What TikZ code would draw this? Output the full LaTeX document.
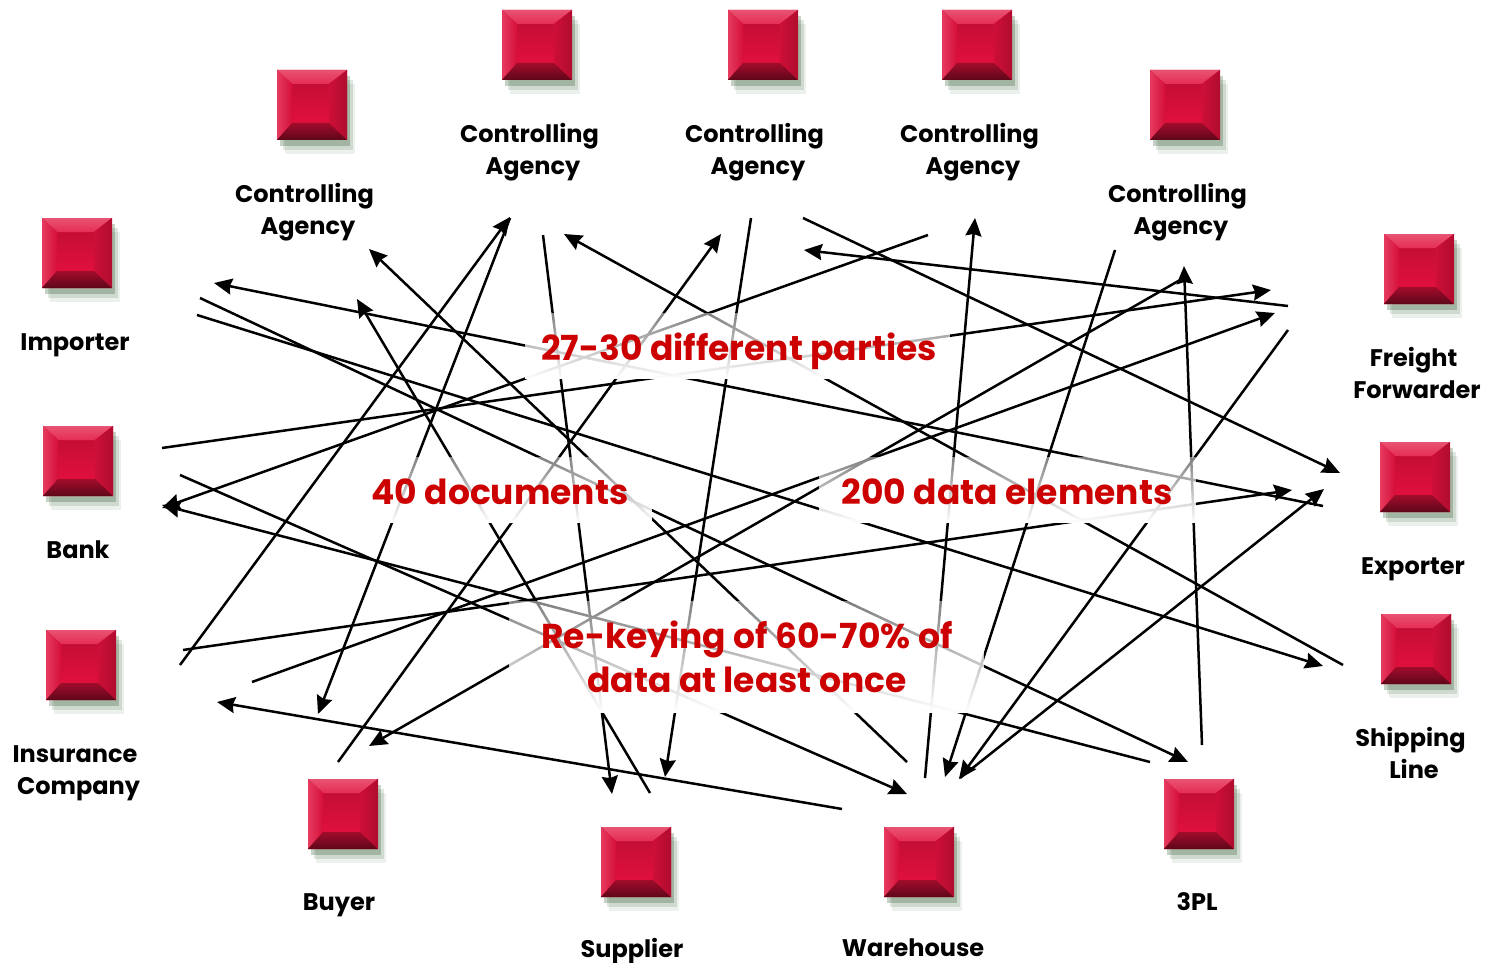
\documentclass[tikz,border=0pt]{standalone}
\usepackage{fontspec}
\setmainfont{Poppins}
\usetikzlibrary{arrows.meta, calc, fadings, shadows}

\definecolor{notered}{HTML}{CC0000}
\definecolor{tilered}{HTML}{E0103C}
\tikzfading[name=halo, top color=transparent!50, bottom color=transparent!0]
\newcommand{\trail}{\kern7pt}

\tikzset{
	tile/.style={minimum size=70pt, inner sep=0pt, fill=tilered,
		drop shadow={shadow xshift=8pt, shadow yshift=-14pt, opacity=.07, fill=black!80!green},
		drop shadow={shadow xshift=6pt, shadow yshift=-10pt, opacity=.12, fill=black!80!green},
		drop shadow={shadow xshift=3pt, shadow yshift=-6pt, opacity=.22, fill=black!80!green},
		path picture={
			\coordinate (pnw) at (path picture bounding box.north west);
			\coordinate (pne) at (path picture bounding box.north east);
			\coordinate (psw) at (path picture bounding box.south west);
			\coordinate (pse) at (path picture bounding box.south east);
			\coordinate (inw) at ([shift={(15pt,-14pt)}]pnw);
			\coordinate (ine) at ([shift={(-18pt,-14pt)}]pne);
			\coordinate (isw) at ([shift={(15pt,17pt)}]psw);
			\coordinate (ise) at ([shift={(-18pt,17pt)}]pse);
			\fill[top color=tilered!88!black, bottom color=tilered] (inw) rectangle (ise);
			\fill[top color=tilered!72!white, bottom color=tilered!88!white] (pnw) -- (pne) -- (ine) -- (inw) -- cycle;
			\fill[left color=tilered!82!white, right color=tilered!95!black] (pnw) -- (inw) -- (isw) -- (psw) -- cycle;
			\fill[left color=tilered!92!black, right color=tilered!78!black] (pne) -- (ine) -- (ise) -- (pse) -- cycle;
			\fill[top color=tilered!72!black, bottom color=tilered!42!black] (psw) -- (isw) -- (ise) -- (pse) -- cycle;
		}},
	lab/.style={font=\bfseries\fontsize{24}{32}\selectfont, align=center, inner sep=0pt},
	mask/.style={inner sep=0pt, fill=white, path fading=halo},
	note/.style={font=\bfseries\fontsize{34.5}{44}\selectfont, align=center, inner sep=0pt, text=notered},
	flow/.style={black, line width=2.5pt},
	tip/.style={-{Stealth[length=18pt, width=16pt, inset=2pt]}}
}

\begin{document}
\begin{tikzpicture}[x=1pt, y=-1pt]
	\useasboundingbox (0,0) rectangle (1485,963);
	
	% line ends
	\coordinate (f1) at (1288,306);		\coordinate (t1) at (804,250);
	\coordinate (f2) at (803,218);		\coordinate (t2) at (1340,473);
	\coordinate (f3) at (928,235);		\coordinate (t3) at (162,508);
	\coordinate (f4) at (543,235);		\coordinate (t4) at (612,794);
	\coordinate (f5) at (751,218);		\coordinate (t5) at (665,777);
	\coordinate (f6) at (1115,250);		\coordinate (t6) at (945,777);
	\coordinate (f7) at (925,778);		\coordinate (t7) at (975,218);
	\coordinate (f8) at (1202,745);		\coordinate (t8) at (1184,266);
	\coordinate (f9) at (1288,330);		\coordinate (t9) at (959,779);
	\coordinate (f10) at (960,778);		\coordinate (t10) at (1324,489);
	\coordinate (f11) at (1343,665);	\coordinate (t11) at (564,234);
	\coordinate (f12) at (1323,506);	\coordinate (t12) at (214,283);
	\coordinate (f13) at (162,448);		\coordinate (t13) at (1271,290);
	\coordinate (f14) at (252,682);		\coordinate (t14) at (1275,313);
	\coordinate (f15) at (180,665);		\coordinate (t15) at (510,217);
	\coordinate (f16) at (510,218);		\coordinate (t16) at (318,714);
	\coordinate (f17) at (338,762);		\coordinate (t17) at (721,234);
	\coordinate (f18) at (200,298);		\coordinate (t18) at (1188,762);
	\coordinate (f19) at (197,315);		\coordinate (t19) at (1323,666);
	\coordinate (f20) at (180,475);		\coordinate (t20) at (907,794);
	\coordinate (f21) at (1150,762);	\coordinate (t21) at (162,505);
	\coordinate (f22) at (842,809);		\coordinate (t22) at (217,702);
	\coordinate (f23) at (183,650);		\coordinate (t23) at (1292,490);
	\coordinate (f24) at (650,793);		\coordinate (t24) at (357,299);
	\coordinate (f25) at (907,762);		\coordinate (t25) at (369,249);
	\coordinate (f26) at (1180,280);	\coordinate (t26) at (369,746);
	
	\foreach \i in {1,...,26}
		\draw[flow, tip] (f\i) -- (t\i);
	
	% faded patches under the notes
	\node[mask, minimum width=425pt, minimum height=66pt] (parties mask) at (738,346) {};
	\node[mask, minimum width=302pt, minimum height=66pt] (documents mask) at (501,490) {};
	\node[mask, minimum width=377pt, minimum height=66pt] (elements mask) at (1008,490) {};
	\node[mask, minimum width=475pt, minimum height=112pt] (rekeying mask) at (747,657) {};
	
	% notes
	\node[note] (parties) at (739,351) {27-30 different parties};
	\node[note] (documents) at (500,492) {40 documents};
	\node[note] (elements) at (1007,492) {200 data elements};
	\node[note] (rekeying) at (747,657) {Re-keying of 60-70\% of\\data at least once};
	
	% tiles
	\node[tile] (agency1) at (312,105) {};
	\node[tile] (agency2) at (537,45) {};
	\node[tile] (agency3) at (763,45) {};
	\node[tile] (agency4) at (977,45) {};
	\node[tile] (agency5) at (1185,105) {};
	\node[tile] (importer) at (77,253) {};
	\node[tile] (bank) at (78,461) {};
	\node[tile] (insurance) at (81,665) {};
	\node[tile] (freight) at (1419,269) {};
	\node[tile] (exporter) at (1415,477) {};
	\node[tile] (shipping) at (1416,649) {};
	\node[tile] (buyer) at (343,814) {};
	\node[tile] (supplier) at (636,862) {};
	\node[tile] (warehouse) at (919,862) {};
	\node[tile] (tpl) at (1199,814) {};
	
	% labels
	\node[lab] (agency1 text) at (308,212) {Controlling\trail\\Agency};
	\node[lab] (agency2 text) at (533,152) {Controlling\trail\\Agency};
	\node[lab] (agency3 text) at (758,152) {Controlling\trail\\Agency};
	\node[lab] (agency4 text) at (973,152) {Controlling\trail\\Agency};
	\node[lab] (agency5 text) at (1181,212) {Controlling\trail\\Agency};
	\node[lab] (importer text) at (75,345) {Importer};
	\node[lab] (bank text) at (78,550) {Bank};
	\node[lab] (insurance text) at (78.5,773) {Insurance\trail\\Company};
	\node[lab] (freight text) at (1417,373) {Freight\trail\\Forwarder};
	\node[lab] (exporter text) at (1413,569) {Exporter};
	\node[lab] (shipping text) at (1414,753) {Shipping\trail\\Line};
	\node[lab] (buyer text) at (339,905) {Buyer};
	\node[lab] (supplier text) at (632,951) {Supplier};
	\node[lab] (warehouse text) at (913,948) {Warehouse};
	\node[lab] (tpl text) at (1197,902) {3PL};
\end{tikzpicture}
\end{document}
